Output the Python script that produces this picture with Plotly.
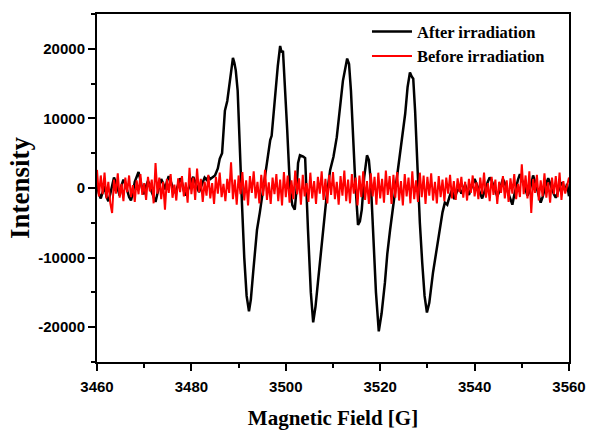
import plotly.graph_objects as go

# ---------------- data ----------------
field_start = 3460.0
field_step = 0.4

# "Before irradiation" (red) sampled every 0.4 G from 3460 to 3560
before_intensity = [
    2600, -1200, 1800, -900, 2200, -1500, 900, -2100, -3600, 1200, -800, 2100, -1400, 600, -1900, 1500, -600, 1800, -1300, 400, -2000, 1100, -900, 2000, -1000,
    700, -1700, 1600, -500, 1200, -2200, 3600, -800, 1500, -1600, 900, -3100, 1300, -700, 2000, -1400, 500, -1800, 1400, -600, 1700, -1200, 800, -2100, 2900,
    -900, 1500, -1700, 2800, -600, 1300, -2000, 900, -1100, 1900, -1500, 700, -2300, 1600, -800, 2200, -1300, 600, -1900, 1300, -700, 3700, -1600, 1200, -2400,
    1800, -900, 2300, -1800, 1100, -2500, 1700, -700, 2400, -1500, 900, -2200, 1900, -1100, 2600, -1700, 800, -2300, 1500, -900, 2000, -1900, 1200, -2500, 2300,
    -1300, 1800, -2100, 1100, -1600, 2500, -900, 1400, -2400, 1900, -1200, 700, -2000, 2200, -1500, 1000, -2300, 1600, -800, 2400, -1700, 1300, -2200, 1900, -1000,
    2300, -1600, 900, -2400, 1700, -1100, 2500, -1900, 1200, -2200, 2000, -800, 1500, -2500, 1800, -1300, 2400, -1700, 1000, -2300, 2100, -1200, 1600, -2400, 2200,
    -1500, 1300, -2100, 2500, -1000, 1700, -2300, 1900, -1400, 2300, -1800, 1000, -2500, 2000, -1200, 1500, -2200, 2400, -1600, 1100, -2000, 2200, -1300, 1800, -2300,
    1600, -1100, 2100, -1800, 900, -2200, 1700, -1300, 1200, -1900, 1500, -800, 1900, -1500, 1000, -1700, 1400, -600, 1600, -1400, 900, -1800, 1300, -700, 1800,
    -1200, 800, -1600, 1500, -900, 2200, -1400, 700, -1900, 1600, -1000, 1200, -2300, 900, -700, 1700, -1500, 1100, -2000, 1400, -800, 2000, -1600, 600, -1300,
    3400, -900, 1800, -1500, 2400, -3600, 1300, -700, 1900, -1800, 1100, -1200, 2100, -1400, 800, -2100, 1500, -900, 1700, -1300, 2200, -1700, 1000, -800, 600,
    1500,
]

# "After irradiation" (black): baseline before the signal, every 0.4 G from 3460
after_pre_intensity = [
    500, -800, -1500, -600, 300, -1200, -1900, -900, 200, 1500,
    800, -300, -1100, 400, 1200, 600, -500, -1300, -1800, -700,
    900, 1600, 2300, 1100, -200, -900, 300, 1000, 400, -600,
    -1400, -2000, -800, 500, 1300, 700, -200, 900, 1700, 1000,
    100, -700, -300, 600, 1400, 800, -400, -1100, -500, 300,
    1100, 1600, 900, 200, -600, 100, 900, 1500, 1200, 1600,
    1300, 1500,
]

# signal region of the black trace
after_sig_field = [
    3485.0, 3485.6, 3486.0, 3486.5, 3487.1, 3487.6, 3488.2, 3488.8, 3489.1, 3489.4,
    3489.8, 3490.3, 3490.7, 3491.2, 3491.7, 3492.2, 3492.6, 3493.1, 3493.9, 3494.5,
    3495.2, 3496.0, 3496.7, 3497.0, 3497.7, 3498.3, 3498.8, 3499.1, 3499.4, 3499.8,
    3500.3, 3500.9, 3501.4, 3501.9, 3502.3, 3502.6, 3503.0, 3503.7, 3504.1, 3504.7,
    3505.3, 3505.8, 3506.3, 3506.8, 3507.3, 3507.9, 3508.6, 3509.4, 3510.1, 3510.8,
    3511.5, 3512.1, 3513.0, 3513.4, 3513.8, 3514.3, 3514.7, 3515.3, 3515.7, 3516.1,
    3516.6, 3517.2, 3517.6, 3518.0, 3518.5, 3519.1, 3519.7, 3520.3, 3521.0, 3521.5,
    3522.1, 3523.0, 3523.8, 3524.6, 3525.3, 3525.8, 3526.3, 3526.7, 3527.0, 3527.4,
    3527.8, 3528.4, 3528.9, 3529.4, 3529.9, 3530.4, 3531.2, 3531.9, 3532.7, 3533.2,
    3533.7, 3534.2, 3534.7, 3535.2, 3535.7, 3536.2,
]
after_sig_intensity = [
    1800, 2800, 4200, 5000, 11100, 12500, 15500, 18700, 18000, 16900,
    14000, 3600, -2000, -10000, -15500, -17700, -16000, -12000, -6000, -3500,
    -300, 3500, 6900, 7500, 13000, 17500, 20400, 19500, 19700, 15000,
    8300, -300, -2500, -3100, 0, 3600, 4700, 4500, 4300, -6000,
    -15000, -19300, -17000, -13600, -10000, -6000, -1500, 2600, 4500, 7300,
    12000, 15400, 18600, 17800, 14000, 6000, 1100, -5300, -4800, -3100,
    1500, 4700, 4000, 1000, -6000, -15000, -20600, -18000, -13600, -9500,
    -6000, -1500, 2600, 6500, 10700, 14500, 16600, 16000, 15700, 11000,
    3600, -5000, -10700, -15500, -17900, -16500, -12100, -9000, -5600, -3500,
    -2100, -2400, -1200, -300, -1600, -600,
]

# baseline after the signal, every 0.4 G from 3536.8
after_post_start = 3536.8
after_post_intensity = [
    100, -800, -300, 500, -400, -1000, -200, 700, 1300, 600,
    -100, -900, -1500, -700, 200, 900, 1500, 1100, 300, -500,
    -1200, -600, 400, 1300, 700, -100, -800, -1800, -2400, -1000,
    300, 1200, 2000, 1300, 500, -300, -1100, -500, 600, 1800,
    900, -200, -1000, -2100, -1300, -200, 700, 1400, 600, -300,
    -900, -1400, -600, 200, 800, 300, -400, 600, -1200,
]

x_ticks = [3460, 3480, 3500, 3520, 3540, 3560]
y_ticks = [-20000, -10000, 0, 10000, 20000]
y_tick_text = ["-20000", "-10000", "0", "10000", "20000"]

# ---------------- build traces ----------------
before_field = [round(field_start + i * field_step, 2) for i in range(len(before_intensity))]
after_field = (
    [round(field_start + i * field_step, 2) for i in range(len(after_pre_intensity))]
    + after_sig_field
    + [round(after_post_start + i * field_step, 2) for i in range(len(after_post_intensity))]
)
after_intensity = after_pre_intensity + after_sig_intensity + after_post_intensity

fig = go.Figure()
fig.add_trace(go.Scatter(x=after_field, y=after_intensity, mode="lines",
                         name="After irradiation",
                         line=dict(color="black", width=2.5)))
fig.add_trace(go.Scatter(x=before_field, y=before_intensity, mode="lines",
                         name="Before irradiation",
                         line=dict(color="#ff0000", width=2)))

tickfont = dict(family="Liberation Sans, Arial", size=15, color="black", weight="bold")
titlefont_y = dict(family="Liberation Serif, Times New Roman", size=27, color="black", weight="bold")
titlefont_x = dict(family="Liberation Serif, Times New Roman", size=21, color="black", weight="bold")

fig.update_layout(
    width=591, height=432,
    margin=dict(l=97, r=22, t=14, b=70, autoexpand=False),
    paper_bgcolor="white", plot_bgcolor="white",
    showlegend=True,
    legend=dict(x=0.572, y=0.999, xanchor="left", yanchor="top",
                bgcolor="rgba(0,0,0,0)",
                font=dict(family="Liberation Serif, Times New Roman", size=16.5,
                          color="black", weight="bold"),
                tracegroupgap=0, itemwidth=40),
    xaxis=dict(
        range=[3460, 3560], tickvals=x_ticks,
        showgrid=False, zeroline=False, automargin=False,
        showline=True, linecolor="black", linewidth=2, mirror=True,
        ticks="outside", ticklen=7, tickwidth=2, tickcolor="black",
        ticklabelstandoff=3,
        minor=dict(dtick=10, tick0=3460, ticks="outside", ticklen=4, tickwidth=2, tickcolor="black"),
        tickfont=tickfont,
        title=dict(text="Magnetic Field [G]", font=titlefont_x, standoff=16),
    ),
    yaxis=dict(
        range=[-25000, 25000], tickvals=y_ticks, ticktext=y_tick_text,
        showgrid=False, zeroline=False, automargin=False,
        showline=True, linecolor="black", linewidth=2, mirror=True,
        ticks="outside", ticklen=7, tickwidth=2, tickcolor="black",
        minor=dict(dtick=5000, tick0=0, ticks="outside", ticklen=4, tickwidth=2, tickcolor="black"),
        tickfont=tickfont,
        title=dict(text="Intensity", font=titlefont_y, standoff=1),
    ),
)

fig.write_html("out.html", config={"displayModeBar": False},
               post_script="document.body.style.margin='0';")
